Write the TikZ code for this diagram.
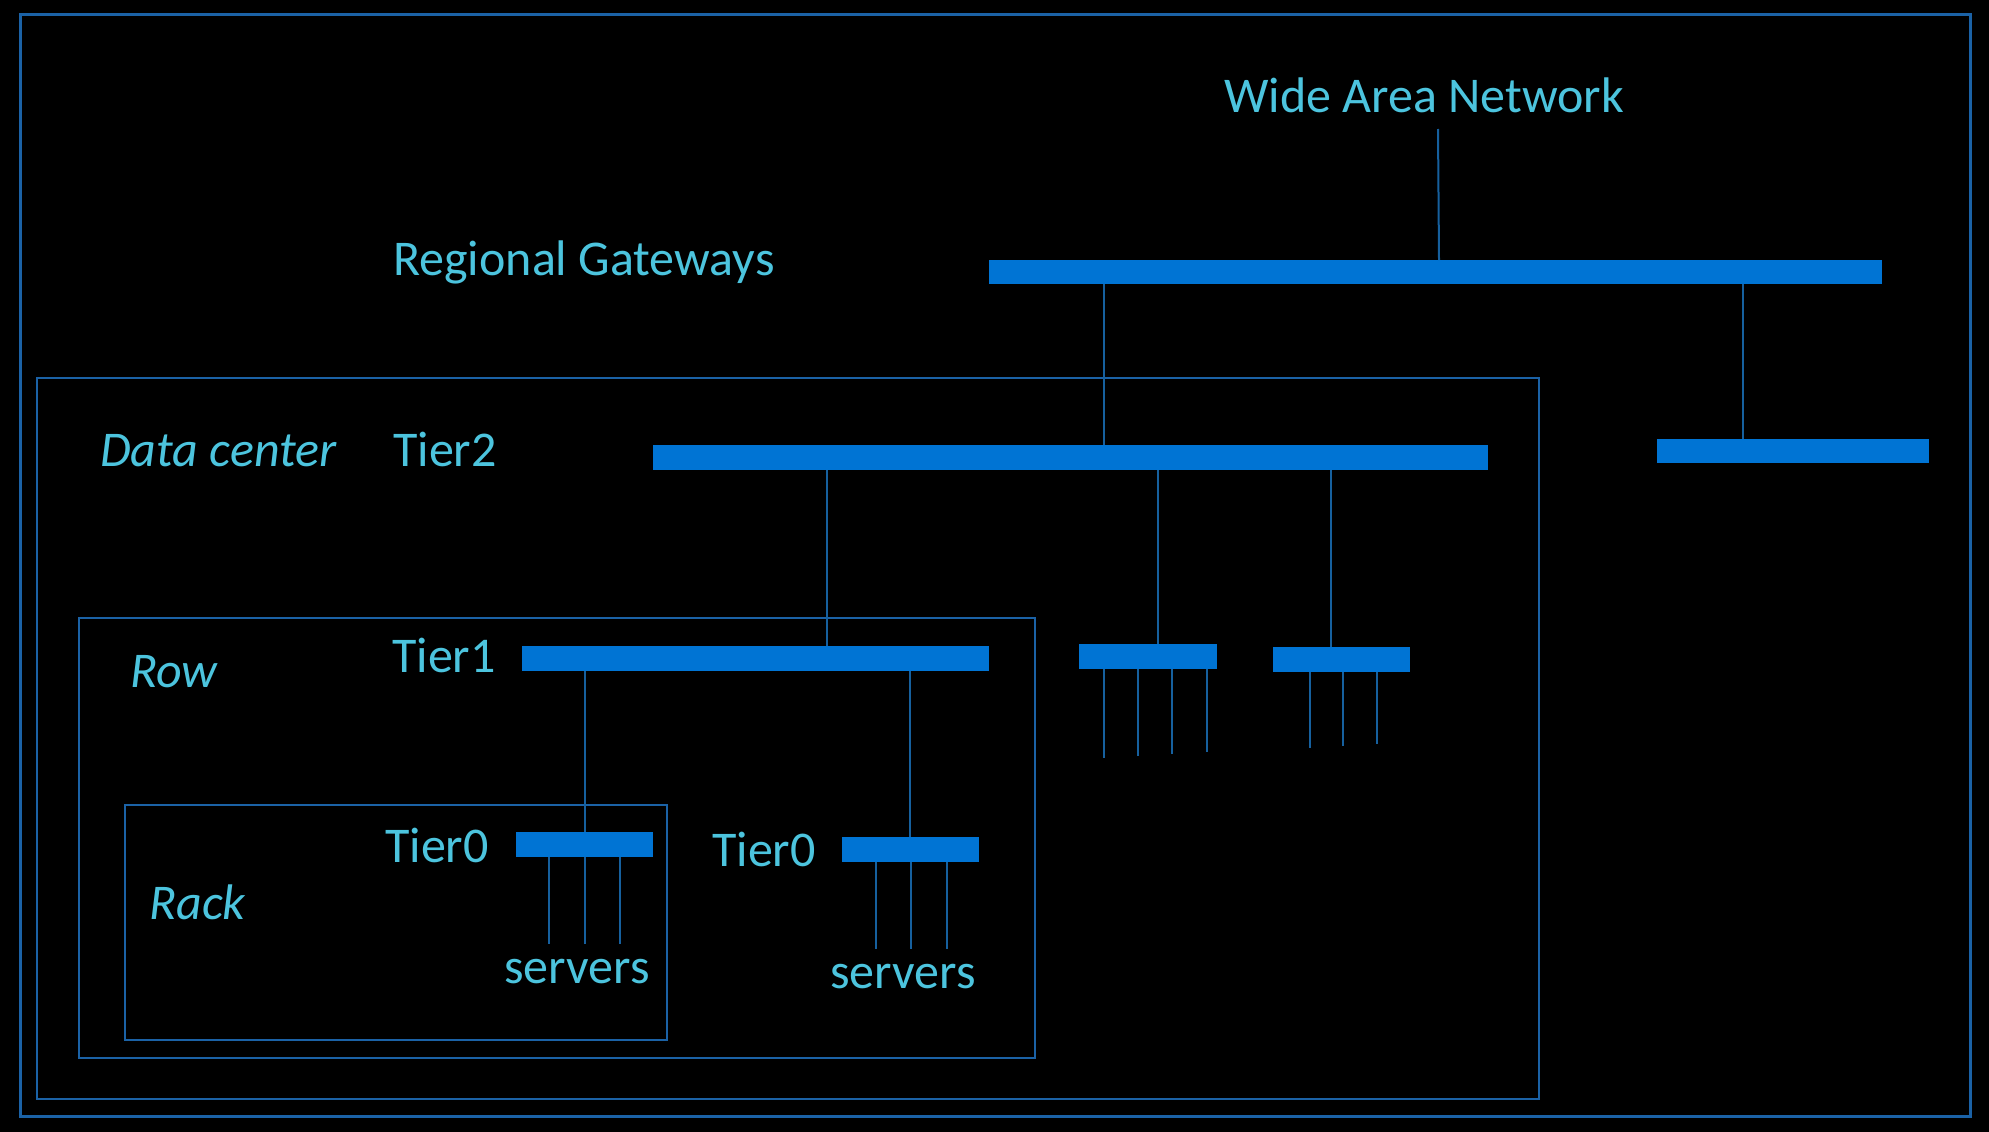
\documentclass[tikz,border=0pt]{standalone}
\usepackage{fontspec}
\setmainfont{Carlito}
\definecolor{barblue}{HTML}{0074D4}
\definecolor{lineblue}{HTML}{16609E}
\definecolor{frameblue}{HTML}{1B62A6}
\definecolor{txtcyan}{HTML}{4CC4DE}
\begin{document}
\begin{tikzpicture}[x=1pt,y=-1pt,
  bar/.style={rectangle, fill=barblue, draw=none, inner sep=0pt, outer sep=0pt, anchor=north west},
  conn/.style={draw=lineblue, line width=2pt},
  frame/.style={draw=frameblue, line width=2.5pt},
  lbl/.style={text=txtcyan, font=\fontsize{50}{60}\selectfont, anchor=base west, inner sep=0pt},
  lbli/.style={lbl, font=\fontsize{50}{60}\selectfont\itshape}]
\fill[black] (0,0) rectangle (1989,1132);
\useasboundingbox (0,0) rectangle (1989,1132);

% frames
\draw[frame, line width=3pt] (20,15) rectangle (1970,1116);
\draw[frame] (37,378) rectangle (1539,1099);
\draw[frame] (79,618) rectangle (1035,1058);
\draw[frame] (125,805) rectangle (667,1040);

% labels
\node[lbl] (wan) at (1224,112) {Wide Area Network};
\node[lbl] (rgl) at (393,275) {Regional Gateways};
\node[lbli] (dcl) at (100,466) {Data center};
\node[lbl] (t2l) at (393,466) {Tier2};
\node[lbli] (rowl) at (130,687) {Row};
\node[lbl] (t1l) at (392,672) {Tier1};
\node[lbl] (t0al) at (385,862) {Tier0};
\node[lbli] (rackl) at (149,919) {Rack};
\node[lbl] (srva) at (504,983) {servers};
\node[lbl] (t0bl) at (712,866) {Tier0};
\node[lbl] (srvb) at (830,988) {servers};

% bars
\node[bar, minimum width=893pt, minimum height=24pt] (rg) at (989,260) {};
\node[bar, minimum width=272pt, minimum height=24pt] (rgr) at (1657,439) {};
\node[bar, minimum width=835pt, minimum height=25pt] (t2) at (653,445) {};
\node[bar, minimum width=467pt, minimum height=25pt] (t1) at (522,646) {};
\node[bar, minimum width=138pt, minimum height=25pt] (t1b) at (1079,644) {};
\node[bar, minimum width=137pt, minimum height=25pt] (t1c) at (1273,647) {};
\node[bar, minimum width=137pt, minimum height=25pt] (t0a) at (516,832) {};
\node[bar, minimum width=137pt, minimum height=25pt] (t0b) at (842,837) {};

% connector x positions
\coordinate (xw) at (1439,0);
\coordinate (x1) at (1104,0);
\coordinate (x2) at (1743,0);
\coordinate (x3) at (827,0);
\coordinate (x4) at (1158,0);
\coordinate (x5) at (1331,0);
\coordinate (x6) at (585,0);
\coordinate (x7) at (910,0);

\coordinate (wanend) at (1438,129);
\draw[conn] (wanend) -- (rg.north -| xw);
\draw[conn] (rg.south -| x1) -- (t2.north -| x1);
\draw[conn] (rg.south -| x2) -- (rgr.north -| x2);
\draw[conn] (t2.south -| x3) -- (t1.north -| x3);
\draw[conn] (t2.south -| x4) -- (t1b.north -| x4);
\draw[conn] (t2.south -| x5) -- (t1c.north -| x5);
\draw[conn] (t1.south -| x6) -- (t0a.north -| x6);
\draw[conn] (t1.south -| x7) -- (t0b.north -| x7);

% server / downlink stubs
\foreach \i/\x in {1/549,2/585,3/620}{
  \coordinate (sa\i) at (\x,944);
  \draw[conn] (t0a.south -| sa\i) -- (sa\i);
}
\foreach \i/\x in {1/876,2/911,3/947}{
  \coordinate (sb\i) at (\x,949);
  \draw[conn] (t0b.south -| sb\i) -- (sb\i);
}
\foreach \i/\x/\y in {1/1104/758,2/1138/756,3/1172/754,4/1207/752}{
  \coordinate (sc\i) at (\x,\y);
  \draw[conn] (t1b.south -| sc\i) -- (sc\i);
}
\foreach \i/\x/\y in {1/1310/748,2/1343/746,3/1377/744}{
  \coordinate (sd\i) at (\x,\y);
  \draw[conn] (t1c.south -| sd\i) -- (sd\i);
}
\end{tikzpicture}
\end{document}
